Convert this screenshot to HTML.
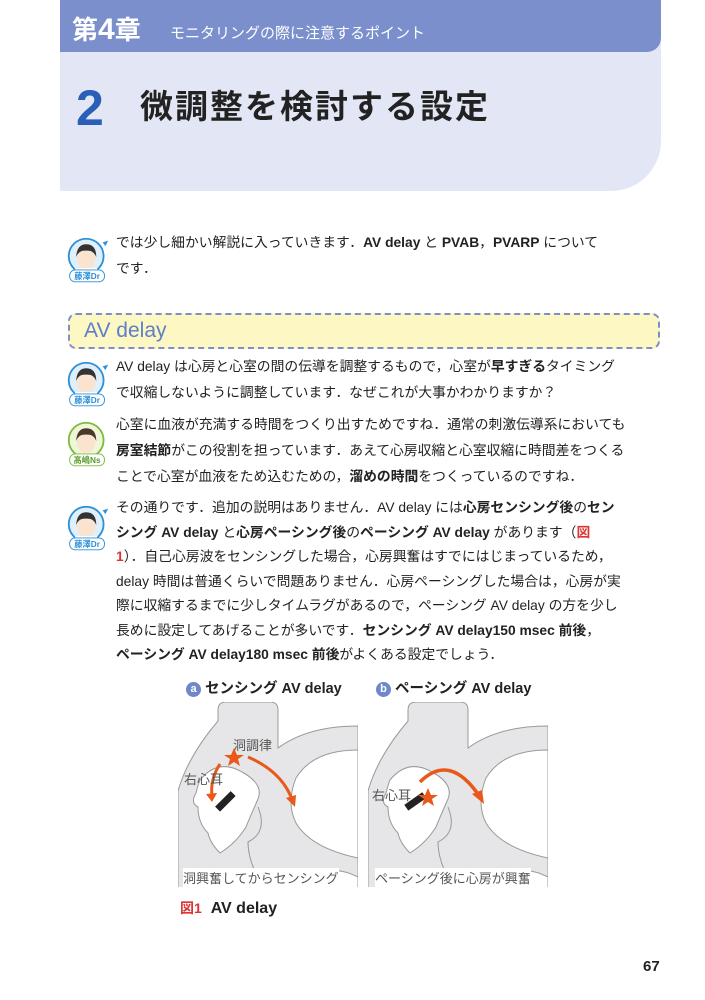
<!DOCTYPE html>
<html><head><meta charset="utf-8"><style>
*{margin:0;padding:0;box-sizing:border-box}
body{width:705px;height:1000px;background:#fff;position:relative;overflow:hidden;font-family:"Liberation Sans","Noto Sans CJK JP",sans-serif;color:#222}
.abs{position:absolute}
.hdr{left:60px;top:0;width:601px;height:191px;background:#e3e6f5;border-bottom-right-radius:50px}
.bar{left:60px;top:0;width:601px;height:52px;background:#7b8fcd;border-bottom-right-radius:14px;color:#fff}
.t{left:116px;width:505px;font-size:13.8px;line-height:24.5px;white-space:nowrap}
b{font-weight:bold}
.av{width:44px;height:50px}
.fig{font-size:13px;color:#555;white-space:nowrap}
</style></head><body>
<div class="abs hdr"></div>
<div class="abs bar">
 <span class="abs" style="left:12px;top:10px;font-size:26px;font-weight:bold;">第<span style="font-size:30px">4</span>章</span>
 <span class="abs" style="left:110px;top:22px;font-size:15px;">モニタリングの際に注意するポイント</span>
</div>
<div class="abs" style="left:76px;top:78px;font-size:50px;font-weight:bold;color:#2a5fb8;line-height:60px">2</div>
<div class="abs" style="left:140px;top:84px;font-size:33px;font-weight:bold;color:#222;line-height:46px;letter-spacing:2px">微調整を検討する設定</div>

<svg width="0" height="0" style="position:absolute"><defs>
<g id="face"><path d="M3 25 a19 19 0 1 1 38 0 a19 19 0 0 1 -38 0z" fill="#dff0fb" stroke="#2d8fd8" stroke-width="2"/><path d="M40 10 l6 -2 -3 6z" fill="#2d8fd8"/><ellipse cx="22" cy="28" rx="10" ry="11" fill="#fbe4cf"/><path d="M11 26 q1 -14 11 -14 q11 0 11 14 q-3 -8 -11 -7 q-8 -1 -11 7z" fill="#333"/><rect x="10" y="38" width="24" height="6" fill="#fff"/></g>
<g id="heart">
<rect x="0" y="0" width="180" height="185" fill="#fff"/>
<path d="M40 8 q0 -8 8 -8 h44 q8 0 8 8 v38 q30 -22 80 -22 v185 h-180 v-120 q10 -35 40 -70z" fill="#e6e6e8" stroke="#999"/>
<path d="M100 46 v0" stroke="#999"/>
<path d="M180 48 q-45 0 -62 28 q-10 25 0 45 q15 25 62 35z" fill="#fff" stroke="#999"/>
<path d="M180 175 q-20 -10 -32 -4 q-6 6 2 18 h30z" fill="#fff" stroke="#999"/>
<path d="M70 40 q-5 -20 -20 -10 l-30 45 q-10 5 -5 15 q6 5 8 5 q-4 25 15 45 q15 25 35 20 q-20 -35 -20 -40z" fill="#fff" stroke="#999" opacity="0"/>
<path d="M22 78 q18 -22 42 -8 q22 12 16 27 q-8 18 -12 28 q-10 16 -26 26 q-10 -10 -12 -20 q-10 -10 -10 -26 q-8 -4 -2 -14 q2 -8 4 -13z" fill="#fff" stroke="#999"/>
<path d="M85 185 q-15 -25 -15 -45 q20 -10 10 -35" fill="none" stroke="#999"/>
</g>
</defs></svg>

<svg class="abs av" style="left:66px;top:233px" viewBox="0 0 48 54"><use href="#face"/><rect x="4" y="40" width="38" height="13" rx="6" fill="#fff" stroke="#2d8fd8"/><text x="23" y="50" font-size="9" text-anchor="middle" fill="#2d8fd8" font-weight="bold">藤澤Dr</text></svg>
<div class="abs t" style="top:230px;line-height:26px">では少し細かい解説に入っていきます．<b>AV delay</b> と <b>PVAB</b>，<b>PVARP</b> について<br>です．</div>

<div class="abs" style="left:68px;top:313px;width:592px;height:36px;background:#fdf7c3;border:2px dashed #7b8fcd;border-radius:8px"></div>
<div class="abs" style="left:84px;top:316px;font-size:21px;color:#5d7fc7;line-height:30px">AV delay</div>

<svg class="abs av" style="left:66px;top:357px" viewBox="0 0 48 54"><use href="#face"/><rect x="4" y="40" width="38" height="13" rx="6" fill="#fff" stroke="#2d8fd8"/><text x="23" y="50" font-size="9" text-anchor="middle" fill="#2d8fd8" font-weight="bold">藤澤Dr</text></svg>
<div class="abs t" style="top:354px;line-height:26px">AV delay は心房と心室の間の伝導を調整するもので，心室が<b>早すぎる</b>タイミング<br>で収縮しないように調整しています．なぜこれが大事かわかりますか？</div>

<svg class="abs av" style="left:66px;top:417px" viewBox="0 0 48 54"><path d="M3 25 a19 19 0 1 1 38 0 a19 19 0 0 1 -38 0z" fill="#eef7d8" stroke="#7cba3c" stroke-width="2"/><ellipse cx="22" cy="28" rx="10" ry="11" fill="#fbe4cf"/><path d="M11 26 q1 -14 11 -14 q11 0 11 14 q-3 -8 -11 -7 q-8 -1 -11 7z" fill="#4a3a2a"/><rect x="4" y="40" width="38" height="13" rx="6" fill="#fff" stroke="#7cba3c"/><text x="23" y="50" font-size="9" text-anchor="middle" fill="#5a9a2a" font-weight="bold">髙嶋Ns</text></svg>
<div class="abs t" style="top:412px;line-height:26px">心室に血液が充満する時間をつくり出すためですね．通常の刺激伝導系においても<br><b>房室結節</b>がこの役割を担っています．あえて心房収縮と心室収縮に時間差をつくる<br>ことで心室が血液をため込むための，<b>溜めの時間</b>をつくっているのですね．</div>

<svg class="abs av" style="left:66px;top:501px" viewBox="0 0 48 54"><use href="#face"/><rect x="4" y="40" width="38" height="13" rx="6" fill="#fff" stroke="#2d8fd8"/><text x="23" y="50" font-size="9" text-anchor="middle" fill="#2d8fd8" font-weight="bold">藤澤Dr</text></svg>
<div class="abs t" style="top:496px">その通りです．追加の説明はありません．AV delay には<b>心房センシング後</b>の<b>セン<br>シング AV delay</b> と<b>心房ペーシング後</b>の<b>ペーシング AV delay</b> があります（<b style="color:#d33">図<br>1</b>）．自己心房波をセンシングした場合，心房興奮はすでにはじまっているため，<br>delay 時間は普通くらいで問題ありません．心房ペーシングした場合は，心房が実<br>際に収縮するまでに少しタイムラグがあるので，ペーシング AV delay の方を少し<br>長めに設定してあげることが多いです．<b>センシング AV delay150 msec 前後</b>，<br><b>ペーシング AV delay180 msec 前後</b>がよくある設定でしょう．</div>

<div class="abs" style="left:186px;top:677px;font-size:14.5px;font-weight:bold;white-space:nowrap"><span style="display:inline-block;width:15px;height:15px;border-radius:50%;background:#6f86c8;color:#fff;font-size:11px;text-align:center;line-height:14px;vertical-align:1px">a</span> センシング AV delay</div>
<div class="abs" style="left:376px;top:677px;font-size:14.5px;font-weight:bold;white-space:nowrap"><span style="display:inline-block;width:15px;height:15px;border-radius:50%;background:#6f86c8;color:#fff;font-size:11px;text-align:center;line-height:14px;vertical-align:1px">b</span> ペーシング AV delay</div>

<svg class="abs" style="left:178px;top:702px" width="180" height="185" viewBox="0 0 180 185">
<use href="#heart"/>
<rect x="44" y="88" width="7" height="22" fill="#222" transform="rotate(45 47 99)"/>
<path d="M42 62 q-10 15 -8 32" stroke="#e8591a" stroke-width="3" fill="none"/><path d="M28 92 l6 8 5 -9z" fill="#e8591a"/>
<path d="M70 55 q35 15 45 45" stroke="#e8591a" stroke-width="3" fill="none"/><path d="M108 96 l9 9 1 -12z" fill="#e8591a"/>
<text x="55" y="48" font-size="13" fill="#555">洞調律</text>
<text x="6" y="82" font-size="13" fill="#555">右心耳</text>
<path d="M56 46 l3 7 7 0 -6 4 2 7 -6 -4 -6 4 2 -7 -6 -4 7 0z" fill="#e8591a"/>
</svg>
<svg class="abs" style="left:368px;top:702px" width="180" height="185" viewBox="0 0 180 185">
<use href="#heart"/>
<rect x="44" y="88" width="7" height="22" fill="#222" transform="rotate(55 47 99)"/>
<path d="M52 80 q30 -30 60 15" stroke="#e8591a" stroke-width="3.5" fill="none"/><path d="M104 92 l12 10 -2 -14z" fill="#e8591a"/>
<text x="4" y="98" font-size="13" fill="#555">右心耳</text>
<path d="M60 86 l3 7 7 0 -6 4 2 7 -6 -4 -6 4 2 -7 -6 -4 7 0z" fill="#e8591a"/>
</svg>
<div class="abs fig" style="left:183px;top:868px;background:#fff">洞興奮してからセンシング</div>
<div class="abs fig" style="left:375px;top:868px;background:#fff">ペーシング後に心房が興奮</div>
<div class="abs" style="left:180px;top:898px;font-size:16px;font-weight:bold;white-space:nowrap"><span style="color:#d33;font-size:14px">図1</span>&nbsp;&nbsp;AV delay</div>
<div class="abs" style="left:643px;top:958px;font-size:15px;font-weight:bold">67</div>
</body></html>
